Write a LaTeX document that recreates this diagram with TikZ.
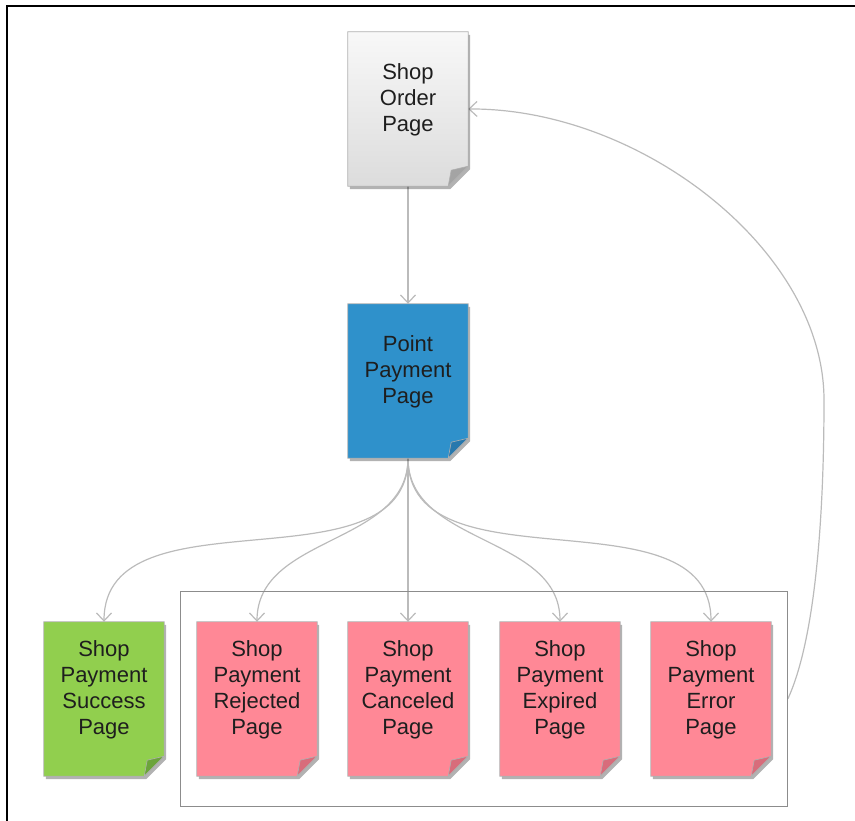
\documentclass[tikz,border=0pt]{standalone}
\usepackage{fontspec}
\setmainfont{Liberation Sans}
\usetikzlibrary{shadows,arrows.meta,calc,fit}
\pgfdeclarelayer{bg}
\pgfdeclarelayer{sheets}
\pgfsetlayers{bg,sheets,main}
\definecolor{pageline}{HTML}{B0B0B0}
\definecolor{flowline}{HTML}{BBBBBB}
\definecolor{groupline}{HTML}{8C8C8C}
\definecolor{textdark}{HTML}{1E1E1E}
\definecolor{ordertop}{HTML}{F8F8F8}
\definecolor{orderbot}{HTML}{DCDCDC}
\definecolor{pointblue}{HTML}{2F91CB}
\definecolor{okgreen}{HTML}{91CF4E}
\definecolor{failpink}{HTML}{FF8896}
\definecolor{foldgray}{HTML}{A4A4A4}
\definecolor{foldblue}{HTML}{2878AD}
\definecolor{foldgreen}{HTML}{6BA43A}
\definecolor{foldpink}{HTML}{D86C7B}

\begin{document}
\begin{tikzpicture}[x=1pt,y=-1pt,
        page/.style={minimum width=120pt, minimum height=154pt, inner sep=2pt,
                align=center, font=\fontsize{22}{26}\selectfont, text=textdark, text depth=23pt},
        sheet/.style={draw=pageline, line width=0.8pt,
                drop shadow={shadow xshift=2pt, shadow yshift=-3pt, opacity=0.3, fill=black}},
        ordersheet/.style={sheet, top color=ordertop, bottom color=orderbot},
        pointsheet/.style={sheet, fill=pointblue},
        oksheet/.style={sheet, fill=okgreen},
        failsheet/.style={sheet, fill=failpink},
        flow/.style={draw=flowline, line width=1.2pt, -{Straight Barb[length=8pt,width=15pt]}}]
        \useasboundingbox (0,0) rectangle (855,821);
        \draw [line width=2pt] (7,821) -- (7,6) -- (855,6);
        \node (order) [page] at (408,109) {Shop\\Order\\Page};
        \node (point) [page] at (408,381) {Point\\Payment\\Page};
        \node (success) [page] at (104,699) {Shop\\Payment\\Success\\Page};
        \node (rejected) [page] at (257,699) {Shop\\Payment\\Rejected\\Page};
        \node (canceled) [page] at (408,699) {Shop\\Payment\\Canceled\\Page};
        \node (expired) [page] at (560,699) {Shop\\Payment\\Expired\\Page};
        \node (error) [page] at (711,699) {Shop\\Payment\\Error\\Page};
        \node (group) [draw=groupline, line width=1.2pt, inner xsep=16pt, inner ysep=30pt,
                fit=(rejected)(error)] {};
        \begin{pgfonlayer}{sheets}
                \foreach \n/\s/\c in {order/ordersheet/foldgray, point/pointsheet/foldblue,
                        success/oksheet/foldgreen, rejected/failsheet/foldpink,
                        canceled/failsheet/foldpink, expired/failsheet/foldpink,
                        error/failsheet/foldpink} {
                        \path [\s] (\n.north west) -- (\n.north east) -- ($(\n.south east)+(0,-20)$)
                                -- ($(\n.south east)+(-20,0)$) -- (\n.south west) -- cycle;
                        \filldraw [fill=\c, draw=pageline, line width=0.6pt]
                                ($(\n.south east)+(-20,0)$) -- ($(\n.south east)+(-17,-16)$)
                                -- ($(\n.south east)+(0,-20)$) -- cycle;
                }
        \end{pgfonlayer}
        \begin{pgfonlayer}{bg}
                \draw (order) edge [flow] (point);
                \draw (point) edge [flow, out=-90, in=90] (success);
                \draw (point) edge [flow, out=-90, in=90] (rejected);
                \draw (point) edge [flow] (canceled);
                \draw (point) edge [flow, out=-90, in=90] (expired);
                \draw (point) edge [flow, out=-90, in=90] (error);
                \draw [flow] (group.east) .. controls (815,640) and (824,520) .. (824,400)
                        .. controls (824,250) and (640,108) .. (order.east);
        \end{pgfonlayer}
\end{tikzpicture}
\end{document}
